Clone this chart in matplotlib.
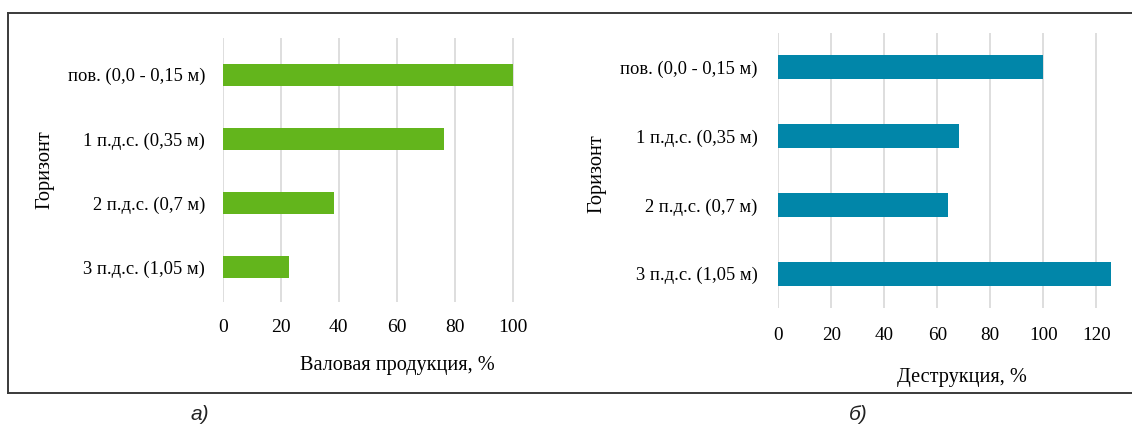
import matplotlib
matplotlib.use('Agg')
import matplotlib.pyplot as plt
from matplotlib.lines import Line2D

horizons = ['пов. (0,0 - 0,15 м)', '1 п.д.с. (0,35 м)', '2 п.д.с. (0,7 м)', '3 п.д.с. (1,05 м)']
gross_production = [100, 76.4, 38.4, 22.9]
destruction = [100, 68.3, 64.0, 125.4]
ticks_a = [0, 20, 40, 60, 80, 100]
ticks_b = [0, 20, 40, 60, 80, 100, 120]

plt.rcParams['font.family'] = ['Liberation Serif', 'DejaVu Serif']

W, H = 1132, 426
fig = plt.figure(figsize=(W / 100, H / 100), dpi=100)


def px_axes(x0, x1, y0, y1):
    # pixel box (top-left origin) -> figure fraction axes
    return fig.add_axes([x0 / W, 1 - y1 / H, (x1 - x0) / W, (y1 - y0) / H])


def style(ax, values, color, ticks, xmax, bar_h, ylim, ypad, xpad, xsize):
    pos = list(range(len(horizons)))
    ax.barh(pos, values, height=bar_h, color=color, zorder=3)
    ax.set_yticks(pos)
    ax.set_yticklabels(horizons)
    ax.set_ylim(*ylim)
    ax.set_xlim(0, xmax)
    ax.set_xticks(ticks)
    ax.grid(axis='x', color='#d4d4d4', linewidth=1.1, zorder=0)
    for s in ax.spines.values():
        s.set_visible(False)
    ax.tick_params(axis='y', length=0, pad=ypad, labelsize=13.3, labelcolor='black')
    ax.tick_params(axis='x', length=0, pad=xpad, labelsize=xsize, labelcolor='black')


# а) gross production
ax1 = px_axes(222.7, 560, 38, 302)
style(ax1, gross_production, '#63b51c', ticks_a, (560 - 222.7) / 2.903, 0.34,
      (3.54, -0.57), 12.5, 12.5, 14)
ax1.set_xlabel('Валовая продукция, %', fontsize=14.6, va='center', color='black')
ax1.xaxis.set_label_coords(0.517, -0.239)
ax1.set_ylabel('Горизонт', fontsize=14.6, va='center', color='black')
ax1.yaxis.set_label_coords(-0.527, 0.5)

# б) destruction
ax2 = px_axes(778.3, 1132, 33, 308)
style(ax2, destruction, '#0186a9', ticks_b, (1132 - 778.3) / 2.65, 0.35,
      (3.5, -0.5), 15, 14, 13.8)
ax2.set_xlabel('Деструкция, %', fontsize=14.6, va='center', color='black')
ax2.xaxis.set_label_coords(0.519, -0.251)
ax2.set_ylabel('Горизонт', fontsize=14.6, va='center', color='black')
ax2.yaxis.set_label_coords(-0.513, 0.49)

# frame around both panels (no right edge)
for (xa, ya, xb, yb) in [(8, 13, W, 13), (8, 393, W, 393), (8, 13, 8, 393)]:
    fig.add_artist(Line2D([xa / W, xb / W], [1 - ya / H, 1 - yb / H],
                          color='#3a3a3a', linewidth=1.4, transform=fig.transFigure))

fig.text(200 / W, 1 - 414 / H, 'а)', fontsize=15, style='italic', ha='center', va='center',
         family=['Liberation Sans', 'DejaVu Sans'], color='#222222')
fig.text(858 / W, 1 - 414 / H, 'б)', fontsize=15, style='italic', ha='center', va='center',
         family=['Liberation Sans', 'DejaVu Sans'], color='#222222')

fig.savefig('out.png', dpi=100)
